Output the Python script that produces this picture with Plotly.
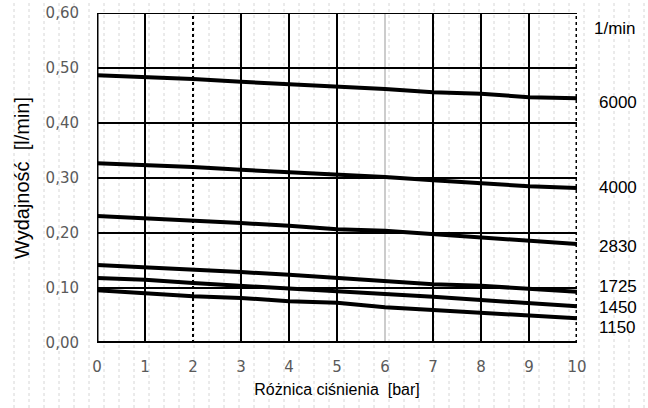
import plotly.graph_objects as go

pressure = [0, 1, 2, 3, 4, 5, 6, 7, 8, 9, 10]
q6000 = [0.487, 0.484, 0.480, 0.475, 0.471, 0.467, 0.462, 0.456, 0.453, 0.447, 0.445]
q4000 = [0.327, 0.324, 0.320, 0.315, 0.311, 0.307, 0.302, 0.296, 0.291, 0.285, 0.282]
q2830 = [0.231, 0.227, 0.222, 0.218, 0.213, 0.207, 0.204, 0.198, 0.193, 0.187, 0.180]
q1725 = [0.142, 0.138, 0.134, 0.129, 0.124, 0.118, 0.113, 0.107, 0.104, 0.098, 0.093]
q1450 = [0.118, 0.115, 0.109, 0.104, 0.100, 0.095, 0.089, 0.084, 0.078, 0.073, 0.067]
q1150 = [0.096, 0.091, 0.085, 0.082, 0.076, 0.073, 0.065, 0.060, 0.055, 0.051, 0.045]

series = [("6000", q6000), ("4000", q4000), ("2830", q2830),
          ("1725", q1725), ("1450", q1450), ("1150", q1150)]
label_y = {"6000": 0.438, "4000": 0.282, "2830": 0.175,
           "1725": 0.102, "1450": 0.065, "1150": 0.029}
unit_label_y = 0.572

x_ticks = list(range(0, 11))
y_ticks = [0.0, 0.1, 0.2, 0.3, 0.4, 0.5, 0.6]

FONT = "Liberation Sans, Arial, sans-serif"
TICKFONT = "DejaVu Sans, sans-serif"

fig = go.Figure()

W, H = 648, 408
L, R, T, B = 97, 71, 13, 65
pw, ph = W - L - R, H - T - B

# faint scan-like dotted vertical lines across the whole picture
px = 14
while px < W:
    fig.add_shape(type="line", xref="paper", yref="paper",
                  x0=(px - L) / pw, x1=(px - L) / pw,
                  y0=-B / ph, y1=1 + T / ph,
                  line=dict(color="#d6d6d6", width=1, dash="dot"), layer="below")
    px += 15

# vertical grid lines with individual styles
vstyle = {0: ("black", 3, "solid"), 1: ("black", 2, "solid"), 2: ("black", 2, "dot"),
          3: ("black", 2, "solid"), 4: ("black", 2, "solid"), 5: ("black", 2, "solid"),
          6: ("#999999", 1, "solid"), 7: ("black", 2, "solid"), 8: ("black", 2, "solid"),
          9: ("black", 2, "solid"), 10: ("black", 3, "dot")}
for xv in x_ticks:
    c, w, d = vstyle[xv]
    fig.add_shape(type="line", xref="x", yref="y", x0=xv, x1=xv, y0=0, y1=0.6,
                  line=dict(color=c, width=w, dash=d), layer="below")

for name, vals in series:
    fig.add_trace(go.Scatter(x=pressure, y=vals, mode="lines", name=name,
                             line=dict(color="black", width=4), showlegend=False,
                             hoverinfo="skip"))
    fig.add_annotation(xref="paper", yref="y", x=1.042, y=label_y[name],
                       text=name, showarrow=False, xanchor="left",
                       font=dict(family=FONT, size=17, color="black"))

fig.add_annotation(xref="paper", yref="y", x=1.032, y=unit_label_y, text="1/min",
                   showarrow=False, xanchor="left",
                   font=dict(family=FONT, size=17, color="black"))

# top border
fig.add_shape(type="line", xref="x", yref="y", x0=0, x1=10, y0=0.6, y1=0.6,
              line=dict(color="black", width=2))
# bottom thick axis
fig.add_shape(type="line", xref="x", yref="y", x0=0, x1=10, y0=0, y1=0,
              line=dict(color="black", width=4))

fig.update_layout(
    width=W, height=H,
    margin=dict(l=L, r=R, t=T, b=B, autoexpand=False),
    paper_bgcolor="white", plot_bgcolor="white",
    separators=",.",
    hovermode=False,
    font=dict(family=FONT, size=14, color="black"),
    xaxis=dict(range=[0, 10], tickvals=x_ticks, ticktext=[str(v) for v in x_ticks],
               showgrid=False, zeroline=False, showline=False,
               ticks="outside", ticklen=10, tickcolor="rgba(0,0,0,0)",
               automargin=False, ticklabeloverflow="allow",
               tickfont=dict(family=TICKFONT, size=15, color="#5a5a5a"),
               title=dict(text="Różnica ciśnienia  [bar]", standoff=8,
                          font=dict(size=16, color="black"))),
    yaxis=dict(range=[0, 0.6], tickvals=y_ticks, tickformat=".2f",
               showgrid=True, gridcolor="black", gridwidth=1.5,
               zeroline=False, showline=False,
               ticks="outside", ticklen=14, tickcolor="rgba(0,0,0,0)",
               automargin=False, ticklabeloverflow="allow",
               tickfont=dict(family=TICKFONT, size=15, color="#5a5a5a"),
               title=dict(text="Wydajność  [l/min]", standoff=10,
                          font=dict(size=20, color="black"))),
)

fig.write_html("out.html", config={"displayModeBar": False},
               post_script="document.body.style.margin='0px';document.body.style.overflow='hidden';")
